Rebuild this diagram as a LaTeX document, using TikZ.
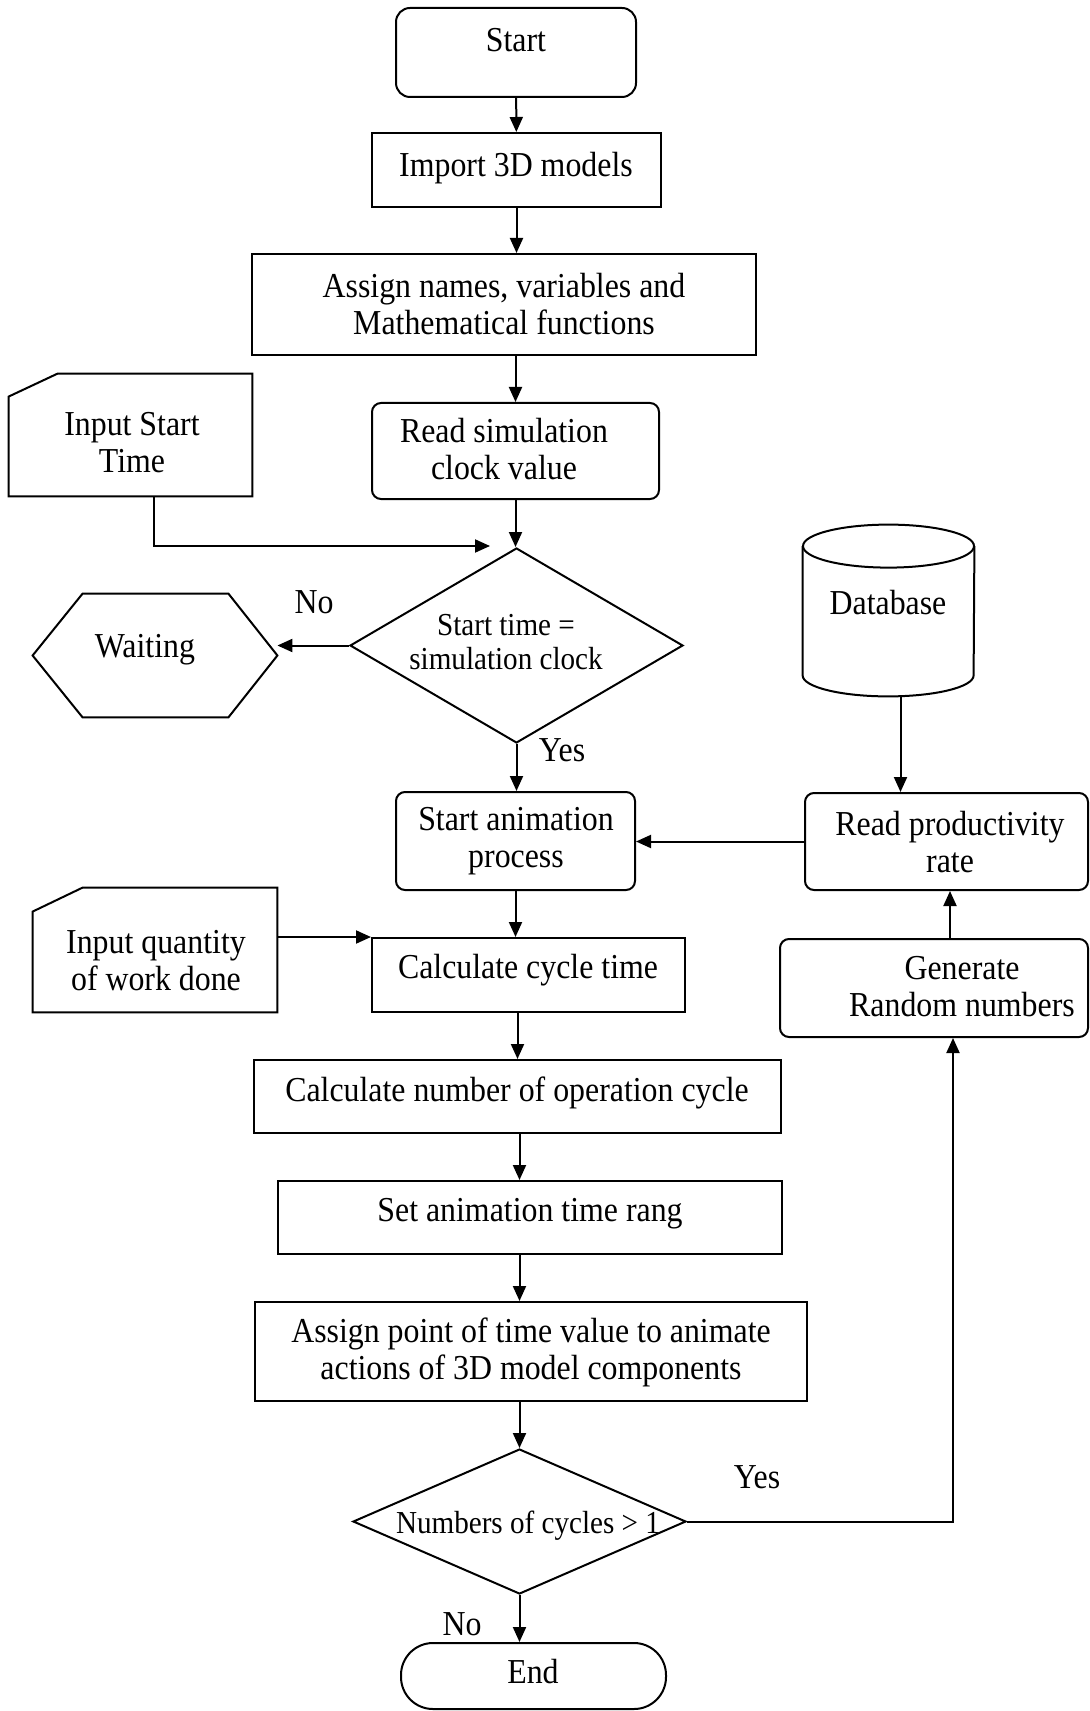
\documentclass[tikz,border=0pt]{standalone}
\usepackage{fontspec}
\setmainfont{Liberation Serif}[FakeStretch=0.91]
\usetikzlibrary{arrows.meta,shapes.geometric,fit,calc}
\begin{document}
\begin{tikzpicture}[x=0.5pt,y=-0.5pt,
  ln/.style={line width=1pt},
  shp/.style={ln, draw, inner sep=0pt},
  box/.style={shp, rectangle},
  rbox/.style={shp, rectangle, rounded corners=4.5pt},
  ghost/.style={inner sep=0pt, rectangle},
  dec/.style={shp, diamond},
  arr/.style={ln, -{Triangle[length=7.5pt,width=6.5pt]}},
  txt/.style={inner sep=0pt, align=center, font=\fontsize{17.5pt}{18.5pt}\selectfont},
  dtxt/.style={inner sep=0pt, align=center, font=\fontsize{16pt}{17pt}\selectfont},
]
\useasboundingbox (0,0) rectangle (1090,1711);
\fill[white] (0,0) rectangle (1090,1711);

% ---------- main column ----------
\node[rbox, rounded corners=7pt, fit={(396,8) (636,97)}] (start) {};
\node[txt] (tStart) at (516,40) {Start};

\node[box, fit={(372,133) (661,207)}] (imp) {};
\node[txt] (tImp) at (516,168) {Import 3D models};

\node[box, fit={(252,254) (756,355)}] (assign) {};
\node[txt] (tAssign) at (504,304) {Assign names, variables and\\Mathematical functions};

\node[rbox, fit={(372,403) (659,499)}] (readsim) {};
\node[txt] (tReadsim) at (504,449) {Read simulation\\clock value};

\node[dec, minimum width=166.5pt, minimum height=97.5pt] (dec1) at (516.5,645.5) {};
\node[dtxt] (tDec1) at (506,642) {Start time =\\simulation clock};

\node[rbox, fit={(396,792) (635,890)}] (anim) {};
\node[txt] (tAnim) at (516,841) {Start animation\\process};

\node[box, fit={(372,938) (685,1012)}] (calc) {};
\node[txt] (tCalc) at (528,970) {Calculate cycle time};

\node[box, fit={(254,1060) (781,1133)}] (calcn) {};
\node[txt] (tCalcn) at (517,1093) {Calculate number of operation cycle};

\node[box, fit={(278,1181) (782,1254)}] (setr) {};
\node[txt] (tSetr) at (530,1214) {Set animation time rang};

\node[box, fit={(255,1302) (807,1401)}] (asp) {};
\node[txt] (tAsp) at (531,1352) {Assign point of time value to animate\\actions of 3D model components};

\node[dec, minimum width=166.5pt, minimum height=72.5pt] (dec2) at (519.5,1521.5) {};
\node[dtxt] (tDec2) at (528,1526) {Numbers of cycles > 1};

\node[rbox, rounded corners=16pt, fit={(401,1643) (666,1709)}] (end) {};
\node[txt] (tEnd) at (533,1672) {End};

% ---------- left side ----------
\node[ghost, fit={(9,374) (252,496)}] (inStart) {};
\draw[ln] ($(inStart.north west)+(0,23)$) -- ($(inStart.north west)+(49,0)$)
  -- (inStart.north east) -- (inStart.south east) -- (inStart.south west) -- cycle;
\node[txt] (tInStart) at (132,443) {Input Start\\Time};

\node[ghost, fit={(33,594) (277,717)}] (wait) {};
\draw[ln] (wait.west) -- ($(wait.north west)+(50,0)$) -- ($(wait.north east)+(-49,0)$)
  -- (wait.east) -- ($(wait.south east)+(-49,0)$) -- ($(wait.south west)+(50,0)$) -- cycle;
\node[txt] (tWait) at (145,650) {Waiting};

\node[ghost, fit={(33,888) (277,1012)}] (inQty) {};
\draw[ln] ($(inQty.north west)+(0,24)$) -- ($(inQty.north west)+(50,0)$)
  -- (inQty.north east) -- (inQty.south east) -- (inQty.south west) -- cycle;
\node[txt] (tInQty) at (156,961) {Input quantity\\of work done};

% ---------- right side ----------
\node[ghost, fit={(803,525) (974,696)}] (db) {};
\draw[ln] ($(db.north)+(0,21.5)$) ellipse [x radius=42.75pt, y radius=10.75pt];
\draw[ln] ($(db.north west)+(0,21.5)$) -- ($(db.south west)+(0,-21)$)
  arc[start angle=180, end angle=360, x radius=42.75pt, y radius=10.5pt]
  -- ($(db.north east)+(0,21.5)$);
\node[txt] (tDb) at (888,603) {Database};

\node[rbox, fit={(805,793) (1088,890)}] (rp) {};
\node[txt] (tRp) at (950,842) {Read productivity\\rate};

\node[rbox, fit={(780,939) (1088,1037)}] (gen) {};
\node[txt] (tGen) at (962,987) {Generate\\Random numbers};

% ---------- labels ----------
\node[txt] (lNo1) at (314,602) {No};
\node[txt] (lYes1) at (562,750) {Yes};
\node[txt] (lYes2) at (757,1477) {Yes};
\node[txt] (lNo2) at (462,1624) {No};

% ---------- connectors ----------
\coordinate (join) at (490,546);
\draw[arr] (start) -- (imp);
\draw[arr] (imp.south) -- (imp.south |- assign.north);
\draw[arr] (readsim.north |- assign.south) -- (readsim.north);
\draw[arr] (readsim.south) -- (readsim.south |- dec1.north);
\draw[arr] ($(inStart.south west)+(145,0)$) |- (join);
\draw[arr] (dec1.west) -- (dec1.west -| wait.east);
\draw[arr] (dec1.south) -- (dec1.south |- anim.north);
\draw[arr] ([xshift=6pt]db.south) -- ([xshift=6pt]db.south |- rp.north);
\draw[arr] (rp.west) -- (rp.west -| anim.east);
\draw[arr] ([xshift=8pt]gen.north) -- ([xshift=8pt]gen.north |- rp.south);
\draw[arr] (anim.south) -- (anim.south |- calc.north);
\draw[arr] ([yshift=6.5pt]inQty.east) -- ([yshift=6.5pt]inQty.east -| calc.west);
\draw[arr] (calcn.north |- calc.south) -- (calcn.north);
\draw[arr] (dec2.north |- calcn.south) -- (dec2.north |- setr.north);
\draw[arr] (dec2.north |- setr.south) -- (dec2.north |- asp.north);
\draw[arr] (dec2.north |- asp.south) -- (dec2.north);
\draw[arr] (dec2.east) -| ([xshift=9.5pt]gen.south);
\draw[arr] (dec2.south) -- (dec2.south |- end.north);
\end{tikzpicture}
\end{document}
